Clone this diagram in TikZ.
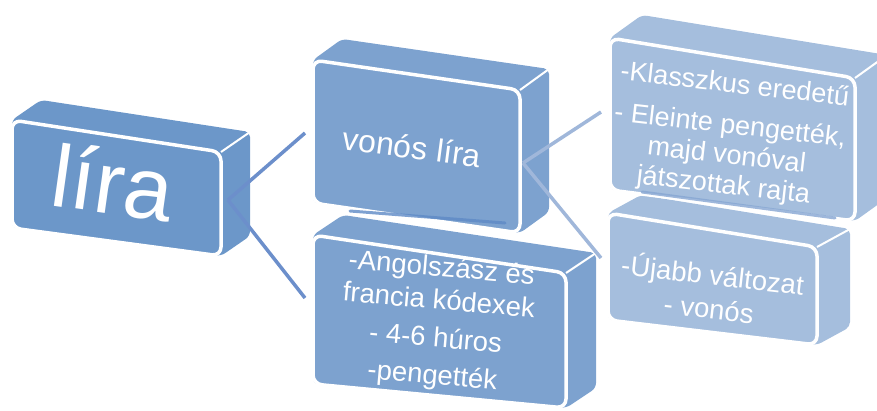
\documentclass[tikz,border=0pt]{standalone}
\usepackage{fontspec}
\setmainfont{Liberation Sans}
\usetikzlibrary{calc}
\definecolor{blueA}{HTML}{6C97C9}
\definecolor{blueB}{HTML}{7DA2CF}
\definecolor{blueC}{HTML}{A5BEDD}
\definecolor{linkA}{HTML}{6C8FCB}
\definecolor{linkB}{HTML}{A0B7DA}
\definecolor{shadeB}{HTML}{5E8AC6}
\definecolor{shadeC}{HTML}{86A6D2}
% back part of a tilted block: top face and right face
% #1 name, #2 colour, #3..#6 front corners tl,tr,br,bl, #7 depth vector
\newcommand{\blockback}[7]{%
  \coordinate (#1-tl) at (#3);
  \coordinate (#1-tr) at (#4);
  \coordinate (#1-br) at (#5);
  \coordinate (#1-bl) at (#6);
  \fill[#2, rounded corners=5pt] (#1-tl) -- ($(#1-tl)+(#7)$) -- ($(#1-tr)+(#7)$)
      -- ($(#1-br)+(#7)$) -- (#1-br) -- (#1-bl) -- cycle;
  \draw[ridge] (#1-tr) -- ($(#1-tr)+(#7)$);
}
\newcommand{\blockfront}[2]{%
  \draw[frontface=#2] (#1-tl) -- (#1-tr) -- (#1-br) -- (#1-bl) -- cycle;
}
\begin{document}
\begin{tikzpicture}[x=1pt,y=-1pt,
  frontface/.style={fill=#1, draw=white, line width=3.5pt, rounded corners=9pt},
  ridge/.style={draw=white, line width=2pt},
  lbl/.style={text=white, inner sep=0pt},
  textblock/.style={lbl, rotate=-6.5, align=center, font=\fontsize{27.5}{#1}\selectfont},
  link/.style={draw=#1, line width=3.5pt},
]
\useasboundingbox (0,0) rectangle (877,410);

% back faces, from the rearmost block forward
\blockback{cod}{blueB}{313,235}{566,273}{566,408}{313,384}{30,-20}
\blockback{bow}{blueB}{313,60}{520,90}{520,233}{313,203}{29,-21}
\blockback{new}{blueC}{608,213}{817,247}{817,345}{608,320}{33,-18}
\blockback{cls}{blueC}{610,38}{855,78}{855,221}{610,190}{32,-23}
\blockback{lyr}{blueA}{12,120}{221,152}{221,256}{12,228}{29,-20}

% connection points
\coordinate (lyrR) at (228,200);
\coordinate (bowL) at (305,133);
\coordinate (codL) at (305,298);
\coordinate (bowR) at (523,163);
\coordinate (clsL) at (601,112);
\coordinate (newL) at (601,258);

\draw[link=linkA] (lyrR) -- (bowL);
\draw[link=linkA] (lyrR) -- (codL);
\draw[link=linkB] (bowR) -- (clsL);
\draw[link=linkB] (bowR) -- (newL);

% front faces
\blockfront{cod}{blueB}
\blockfront{bow}{blueB}
\blockfront{new}{blueC}
\blockfront{cls}{blueC}
\blockfront{lyr}{blueA}

% shading along the lower edge of the upper blocks
\draw[shadeB, line width=3pt, opacity=0.8, line cap=round] (350,211) -- (505,223);
\draw[shadeC, line width=3pt, opacity=0.8, line cap=round] (642,192) -- (835,218);

% labels
\node[lbl, rotate=-8, font=\fontsize{88}{88}\selectfont] (tLyr) at (113,182) {líra};
\node[lbl, rotate=-7.5, font=\fontsize{32}{36}\selectfont] (tBow) at (412,147) {vonós líra};
\node[textblock=30, font=\fontsize{27}{30}\selectfont] (tCls) at (729,136)
  {-Klasszkus eredetű\\[11pt] - Eleinte pengették,\\ majd vonóval\\ játszottak rajta};
\node[textblock=34] (tNew) at (711,290)
  {-Újabb változat\\ - vonós};
\node[textblock=33, rotate=1.5] (tCod) at (437,323)
  {-Angolszász és\\ francia kódexek\\[5pt] - 4-6 húros\\[4pt] -pengették};
\end{tikzpicture}
\end{document}
